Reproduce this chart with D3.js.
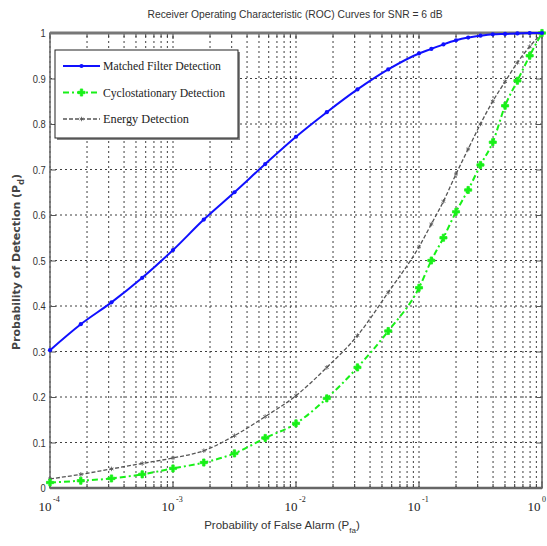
<!DOCTYPE html>
<html>
<head>
<meta charset="utf-8">
<script src="https://cdn.jsdelivr.net/npm/d3@7"></script>
<style>
  body { margin: 0; background: #fff; }
  svg { display: block; }
</style>
</head>
<body>
<div id="chart"></div>
<script>
// false alarm probabilities (log spaced) and the three detection curves
const pfa = [1e-4, 1.78e-4, 3.16e-4, 5.62e-4, 1e-3, 1.78e-3, 3.16e-3, 5.62e-3,
    1e-2, 1.78e-2, 3.16e-2, 5.62e-2, 0.1, 0.126, 0.158, 0.2, 0.251, 0.316,
    0.398, 0.501, 0.631, 0.794, 1];
const matched = [0.303, 0.36, 0.408, 0.462, 0.523, 0.59, 0.65, 0.712,
    0.772, 0.826, 0.876, 0.92, 0.955, 0.965, 0.975, 0.984, 0.99, 0.994,
    0.997, 0.998, 0.999, 1.0, 1.0];
const cyclo = [0.012, 0.016, 0.021, 0.03, 0.043, 0.056, 0.076, 0.11,
    0.142, 0.197, 0.265, 0.345, 0.44, 0.5, 0.55, 0.607, 0.655, 0.71,
    0.76, 0.84, 0.895, 0.95, 1.0];
const energy = [0.02, 0.03, 0.042, 0.054, 0.066, 0.082, 0.115, 0.157,
    0.203, 0.265, 0.335, 0.43, 0.53, 0.58, 0.63, 0.69, 0.745, 0.8,
    0.85, 0.893, 0.935, 0.97, 1.0];
const seriesNames = ["Matched Filter Detection", "Cyclostationary Detection", "Energy Detection"];
const yTicks = [0, 0.1, 0.2, 0.3, 0.4, 0.5, 0.6, 0.7, 0.8, 0.9, 1];
const yTickLabels = ["0", "0.1", "0.2", "0.3", "0.4", "0.5", "0.6", "0.7", "0.8", "0.9", "1"];
const xDecades = [1e-4, 1e-3, 1e-2, 1e-1, 1];
const xDecadeExp = ["-4", "-3", "-2", "-1", "0"];

const width = 547;
const height = 546;
const margin = { top: 33, bottom: 58, left: 50, right: 5 };

const svg = d3.select("#chart")
    .append("svg")
    .attr("width", width)
    .attr("height", height);

const x = d3.scaleLog()
    .domain([1e-4, 1])
    .range([margin.left, width - margin.right]);

const y = d3.scaleLinear()
    .domain([0, 1])
    .range([height - margin.bottom, margin.top]);

// minor ticks 2..9 in each decade
const minor = [];
xDecades.slice(0, -1).forEach(d => {
    for (let k = 2; k <= 9; k++) minor.push(d * k);
});

// grid
const grid = svg.append("g")
    .attr("stroke", "#111")
    .attr("stroke-width", 1)
    .attr("stroke-dasharray", "2,3")
    .attr("opacity", 0.8);

grid.selectAll(".gx")
    .data(xDecades.concat(minor))
    .join("line")
        .attr("x1", d => x(d)).attr("x2", d => x(d))
        .attr("y1", y(0)).attr("y2", y(1));

grid.selectAll(".gy")
    .data(yTicks)
    .join("line")
        .attr("x1", x(1e-4)).attr("x2", x(1))
        .attr("y1", d => y(d)).attr("y2", d => y(d));

// axes box and inward ticks
function yAxis(g) {
    g.attr("transform", `translate(${margin.left}, 0)`)
        .call(d3.axisLeft(y).tickValues(yTicks).tickSize(-6).tickPadding(9)
            .tickFormat((d, i) => yTickLabels[i]))
        .call(g => g.select(".domain").remove())
        .attr("font-family", "'Liberation Sans', Arial, sans-serif")
        .attr("font-size", "11px");
    g.selectAll("line").attr("stroke", "#555");
    g.selectAll("text").attr("fill", "#333")
        .attr("transform", "scale(0.85,1)").attr("x", -5);
}

function yAxisRight(g) {
    g.attr("transform", `translate(${width - margin.right}, 0)`)
        .call(d3.axisRight(y).tickValues(yTicks).tickSize(-6).tickFormat(""))
        .call(g => g.select(".domain").remove());
    g.selectAll("line").attr("stroke", "#555");
}

function xTicks(g, yPos, dir) {
    g.selectAll(".maj")
        .data(xDecades)
        .join("line")
            .attr("x1", d => x(d)).attr("x2", d => x(d))
            .attr("y1", yPos).attr("y2", yPos + dir * 6);
    g.selectAll(".min")
        .data(minor)
        .join("line")
            .attr("x1", d => x(d)).attr("x2", d => x(d))
            .attr("y1", yPos).attr("y2", yPos + dir * 4);
    g.attr("stroke", "#333");
}

svg.append("g").call(yAxis);
svg.append("g").call(yAxisRight);
svg.append("g").call(xTicks, y(0), -1);
svg.append("g").call(xTicks, y(1), 1);

svg.append("rect")
    .attr("x", x(1e-4)).attr("y", y(1))
    .attr("width", x(1) - x(1e-4)).attr("height", y(0) - y(1))
    .attr("fill", "none")
    .attr("stroke", "#666")
    .attr("stroke-width", 1.5);
svg.append("line")
    .attr("x1", x(1e-4)).attr("x2", x(1))
    .attr("y1", y(1)).attr("y2", y(1))
    .attr("stroke", "#777").attr("stroke-width", 3);
svg.append("line")
    .attr("x1", x(1e-4)).attr("x2", x(1))
    .attr("y1", y(0)).attr("y2", y(0))
    .attr("stroke", "#666").attr("stroke-width", 2.5);

// x tick labels 10^n (last one nudged left to stay inside the page)
const xl = svg.append("g")
    .attr("font-family", "'Liberation Serif', 'Times New Roman', serif")
    .attr("fill", "#222");
xDecades.forEach((d, i) => {
    const shift = i === xDecades.length - 1 ? -3 : 0;
    xl.append("text")
        .attr("x", x(d) - 5 + shift)
        .attr("y", y(0) + 23)
        .attr("font-size", "13px")
        .attr("text-anchor", "middle")
        .text("10");
    xl.append("text")
        .attr("x", x(d) + 3 + shift)
        .attr("y", y(0) + 14)
        .attr("font-size", "8px")
        .text(xDecadeExp[i]);
});

// curves
const series = [
    { name: seriesNames[0], values: matched, color: "#1010ff", dash: null, width: 2, mark: "dot" },
    { name: seriesNames[1], values: cyclo, color: "#18f018", dash: "6,3,2,3", width: 2, mark: "plus" },
    { name: seriesNames[2], values: energy, color: "#555555", dash: "4,2", width: 1.3, mark: "star" }
];

const line = d3.line()
    .x((d, i) => x(pfa[i]))
    .y(d => y(d))
    .curve(d3.curveMonotoneX);

const symbols = {
    dot: d3.symbol().type(d3.symbolCircle).size(14),
    plus: d3.symbol().type(d3.symbolCross).size(28),
    star: d3.symbol().type(d3.symbolAsterisk || d3.symbolTimes).size(14)
};

series.slice().reverse().forEach(s => {
    svg.append("path")
        .datum(s.values)
        .attr("fill", "none")
        .attr("stroke", s.color)
        .attr("stroke-width", s.width)
        .attr("stroke-dasharray", s.dash)
        .attr("d", line);
    svg.append("g")
        .selectAll("path")
        .data(s.values)
        .join("path")
            .attr("transform", (d, i) => `translate(${x(pfa[i])},${y(d)})`)
            .attr("d", symbols[s.mark])
            .attr("fill", s.color)
            .attr("stroke", s.mark === "dot" ? "none" : s.color)
            .attr("stroke-width", 0.8);
});

// legend
const lg = svg.append("g").attr("transform", "translate(55,50)");
lg.append("rect")
    .attr("x", 2).attr("y", 2).attr("width", 183).attr("height", 88)
    .attr("fill", "#888");
lg.append("rect")
    .attr("width", 183).attr("height", 88)
    .attr("fill", "#fff").attr("stroke", "#222").attr("stroke-width", 1);
series.forEach((s, i) => {
    const yy = 16 + i * 26.5;
    lg.append("line")
        .attr("x1", 8).attr("x2", 45)
        .attr("y1", yy).attr("y2", yy)
        .attr("stroke", s.color)
        .attr("stroke-width", s.width)
        .attr("stroke-dasharray", s.dash);
    lg.append("path")
        .attr("transform", `translate(26.5,${yy})`)
        .attr("d", symbols[s.mark])
        .attr("fill", s.color)
        .attr("stroke", s.mark === "dot" ? "none" : s.color)
        .attr("stroke-width", 0.8);
    lg.append("text")
        .attr("x", 48).attr("y", yy + 4)
        .attr("font-family", "'Liberation Serif', 'Times New Roman', serif")
        .attr("font-size", "13px")
        .attr("fill", "#222")
        .attr("textLength", i === 0 ? 118 : i === 1 ? 122 : 86)
        .attr("lengthAdjust", "spacingAndGlyphs")
        .text(s.name);
});

// title and axis labels
svg.append("text")
    .attr("x", 295).attr("y", 18)
    .attr("text-anchor", "middle")
    .attr("font-family", "'Liberation Sans', Arial, sans-serif")
    .attr("font-size", "11.5px")
    .attr("fill", "#333")
    .attr("textLength", 295)
    .attr("lengthAdjust", "spacingAndGlyphs")
    .text("Receiver Operating Characteristic (ROC) Curves for SNR = 6 dB");

const xlab = svg.append("text")
    .attr("x", 282).attr("y", 529)
    .attr("text-anchor", "middle")
    .attr("font-family", "'Liberation Sans', Arial, sans-serif")
    .attr("font-size", "11.5px")
    .attr("fill", "#333");
xlab.append("tspan").text("Probability of False Alarm (P");
xlab.append("tspan").attr("font-size", "8px").attr("dy", 4).text("fa");
xlab.append("tspan").attr("dy", -4).text(")");

const ylab = svg.append("text")
    .attr("transform", "translate(20,262) rotate(-90)")
    .attr("text-anchor", "middle")
    .attr("font-family", "'DejaVu Sans', Verdana, sans-serif")
    .attr("font-weight", "bold")
    .attr("font-size", "11px")
    .attr("fill", "#444");
ylab.append("tspan").text("Probability of Detection (P");
ylab.append("tspan").attr("font-size", "8px").attr("dy", 4).text("d");
ylab.append("tspan").attr("dy", -4).text(")");
</script>
</body>
</html>
